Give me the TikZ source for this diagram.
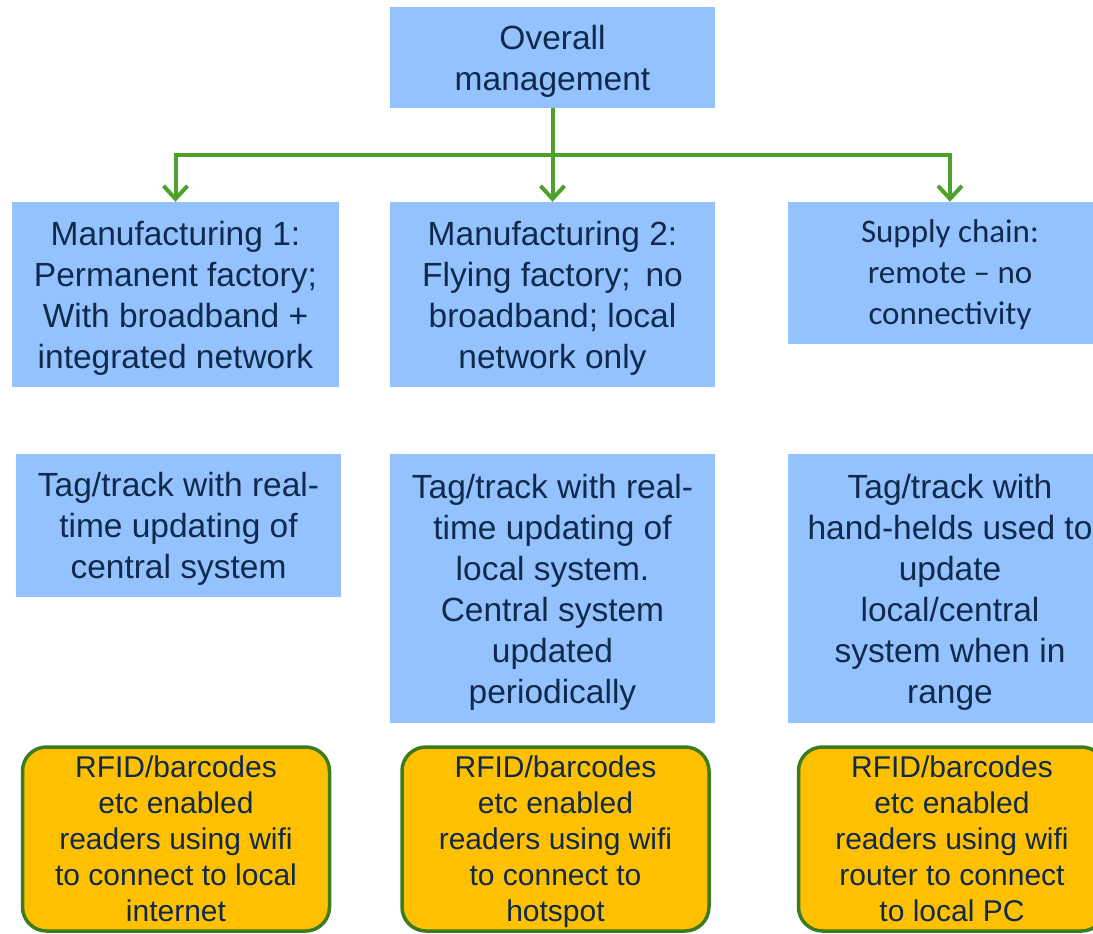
\documentclass[tikz,border=0pt]{standalone}
\usepackage{fontspec}
\setmainfont{Liberation Sans}
\newfontfamily\calib{Carlito}
\usetikzlibrary{arrows.meta}
\definecolor{boxblue}{HTML}{94C2FF}
\definecolor{navy}{HTML}{102A4C}
\definecolor{linkgreen}{HTML}{4EA12A}
\definecolor{rimgreen}{HTML}{3D7B1E}
\definecolor{amber}{HTML}{FFC000}
\begin{document}
\begin{tikzpicture}[x=1pt,y=-1pt,
    level/.style={rectangle,fill=boxblue,text=navy,inner sep=0pt,align=center,
      font=\fontsize{33.5}{41}\selectfont,text depth=-1pt},
    reader/.style={rectangle,rounded corners=24pt,draw=rimgreen,line width=3.5pt,
      fill=amber,text=navy,inner sep=0pt,align=center,minimum width=307pt,
      minimum height=184pt,font=\fontsize{30}{36}\selectfont,text depth=-2pt},
    link/.style={draw=linkgreen,line width=4pt},
    flow/.style={link,-{Straight Barb[length=13pt,width=24pt]}}]
  \useasboundingbox (0,0) rectangle (1093,934);
  % 顶层
  \node[level,minimum width=325pt,minimum height=101pt] (top) at (552.5,57.5)
    {Overall\\management};
  % 第一行：三个业务场景
  \node[level,minimum width=327pt,minimum height=185pt] (mfgA) at (175.5,294.5)
    {Manufacturing 1:\\Permanent factory;\\With broadband +\\integrated network};
  \node[level,minimum width=325pt,minimum height=185pt] (mfgB) at (552.5,294.5)
    {Manufacturing 2:\\Flying factory;\, no\\broadband; local\\network only};
  \node[level,minimum width=324pt,minimum height=142pt,text depth=1pt,
    font=\calib\fontsize{33}{41}\selectfont]
    (supply) at (950,273) {Supply chain:\\remote – no\\connectivity};
  % 第二行：跟踪方式
  \node[level,minimum width=325pt,minimum height=143pt] (trackA) at (178.5,525.5)
    {Tag/track with real-\\time updating of\\central system};
  \node[level,minimum width=325pt,minimum height=269pt] (trackB) at (552.5,588.5)
    {Tag/track with real-\\time updating of\\local system.\\Central system\\updated\\periodically};
  \node[level,minimum width=324pt,minimum height=269pt] (trackC) at (950,588.5)
    {Tag/track with\\hand-helds used to\\update\\local/central\\system when in\\range};
  % 第三行：读写设备
  \node[reader] (rdA) at (176,839)
    {RFID/barcodes\\etc enabled\\readers using wifi\\to connect to local\\internet};
  \node[reader] (rdB) at (555.5,839)
    {RFID/barcodes\\etc enabled\\readers using wifi\\to connect to\\hotspot};
  \node[reader] (rdC) at (952,839)
    {RFID/barcodes\\etc enabled\\readers using wifi\\router to connect\\to local PC};
  % 连线（绿色箭头）
  \coordinate (bar) at (0,155);
  \draw[link] (top.south) -- (top.south |- bar);
  \draw[link,line cap=rect] (mfgA.north |- bar) -- (supply.north |- bar);
  \draw[flow] (mfgA.north |- bar) -- (mfgA.north);
  \draw[flow] (mfgB.north |- bar) -- (mfgB.north);
  \draw[flow] (supply.north |- bar) -- (supply.north);
\end{tikzpicture}
\end{document}
